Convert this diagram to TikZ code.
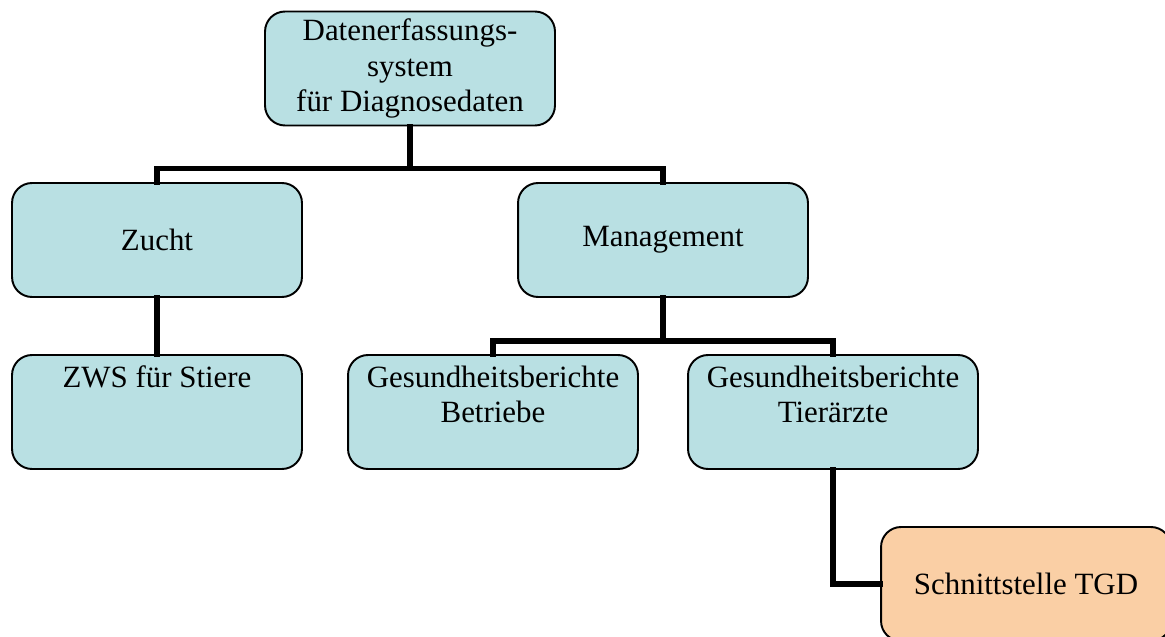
\documentclass[tikz,border=0pt]{standalone}
\usepackage{fontspec}
\setmainfont{Liberation Serif}
\definecolor{boxblue}{RGB}{185,224,227}
\definecolor{boxorange}{RGB}{250,207,165}

\begin{document}
\begin{tikzpicture}[
    x=0.02cm, y=0.02cm,
    block/.style={
        draw=black,
        line width=1.1pt,
        rounded corners=0.4cm,
        fill=boxblue,
        minimum width=5.8cm,
        minimum height=2.28cm,
        align=center,
        font=\fontsize{17.6}{20}\selectfont
    },
    link/.style={
        line width=2.9pt,
        line cap=rect
    }
]

\clip (0,0) rectangle (1165,636);

% blocks
\node[block] (system) at (410,567.5) {Datenerfassungs-\\system\\f\"ur Diagnosedaten};
\node[block] (zucht) at (157,396) {Zucht};
\node[block] (mgmt) at (663,396) {Management};
\node[block] (zws) at (157,224) {ZWS f\"ur Stiere\\\mbox{}\\\mbox{}};
\node[block] (betriebe) at (493,224) {Gesundheitsberichte\\Betriebe\\\mbox{}};
\node[block] (tieraerzte) at (833,224) {Gesundheitsberichte\\Tier\"arzte\\\mbox{}};
\node[block, fill=boxorange] (tgd) at (1026,52) {Schnittstelle TGD};

% links
\draw[link] (system.south) -- ++(0,-42) coordinate (j1);
\draw[link] (j1) -| (zucht.north);
\draw[link] (j1) -| (mgmt.north);
\draw[link] (zucht.south) -- (zws.north);
\draw[link] (mgmt.south) -- ++(0,-43) coordinate (j2);
\draw[link] (j2) -| (betriebe.north);
\draw[link] (j2) -| (tieraerzte.north);
\draw[link] (tieraerzte.south) |- (tgd.west);

\end{tikzpicture}
\end{document}
